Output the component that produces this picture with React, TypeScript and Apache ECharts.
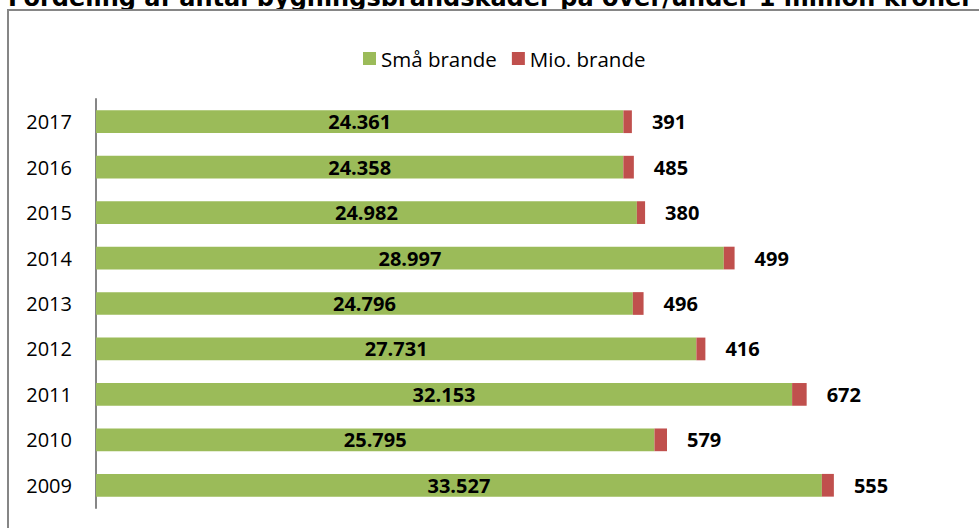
import React, { useEffect, useRef } from "react";
import * as echarts from "echarts";

const years = ["2009", "2010", "2011", "2012", "2013", "2014", "2015", "2016", "2017"];
const smallFires = [33527, 25795, 32153, 27731, 24796, 28997, 24982, 24358, 24361];
const millionFires = [555, 579, 672, 416, 496, 499, 380, 485, 391];
const seriesNames = ["Små brande", "Mio. brande"];
const titleText = "Fordeling af antal bygningsbrandskader på over/under 1 million kroner";

const fmt = (v: number) => String(v).replace(/\B(?=(\d{3})+(?!\d))/g, ".");

export default function App() {
  const ref = useRef<HTMLDivElement>(null);
  useEffect(() => {
    if (!ref.current) return;
    const chart = echarts.init(ref.current, null, { renderer: "svg" });
    const font = "Open Sans";
    chart.setOption({
      animation: false,
      backgroundColor: "#fff",
      graphic: [
        {
          type: "text",
          x: 8,
          y: -14,
          style: {
            text: titleText,
            font: "bold 24px 'DejaVu Sans'",
            fill: "#000",
            verticalAlign: "top",
            align: "left",
          },
          z: 1,
        },
        {
          type: "rect",
          shape: { x: 8, y: 10, width: 1100, height: 700 },
          style: { fill: "#fff", stroke: "#868686", lineWidth: 2 },
          z: 2,
        },
      ],
      legend: {
        left: 363,
        top: 48,
        padding: 0,
        icon: "rect",
        itemWidth: 13,
        itemHeight: 13,
        itemGap: 15,
        textStyle: { fontFamily: font, fontSize: 20.5, color: "#000" },
        data: seriesNames,
        z: 10,
      },
      grid: { left: 96, right: 17, top: 99, bottom: 20, containLabel: false, z: 10 },
      xAxis: {
        type: "value",
        min: 0,
        max: 40000,
        show: false,
        splitLine: { show: false },
      },
      yAxis: {
        type: "category",
        data: years,
        z: 10,
        axisLine: { show: true, lineStyle: { color: "#868686", width: 2 } },
        axisTick: { show: false },
        axisLabel: { fontFamily: font, fontSize: 20, color: "#000", margin: 24 },
      },
      series: [
        {
          name: seriesNames[0],
          type: "bar",
          stack: "total",
          barWidth: "50%",
          z: 10,
          data: smallFires,
          itemStyle: { color: "#9BBB59" },
          label: {
            show: true,
            position: "inside",
            fontFamily: font,
            fontWeight: "bold",
            fontSize: 20,
            color: "#000",
            formatter: (p: any) => fmt(p.value),
          },
        },
        {
          name: seriesNames[1],
          type: "bar",
          stack: "total",
          barWidth: "50%",
          z: 10,
          data: millionFires,
          itemStyle: { color: "#C0504D" },
          label: {
            show: true,
            position: "right",
            distance: 20,
            fontFamily: font,
            fontWeight: "bold",
            fontSize: 20,
            color: "#000",
            formatter: (p: any) => fmt(p.value),
          },
        },
      ],
    });
    return () => chart.dispose();
  }, []);
  return (
    <div
      ref={ref}
      style={{ position: "fixed", left: 0, top: 0, width: 979, height: 528 }}
    />
  );
}
